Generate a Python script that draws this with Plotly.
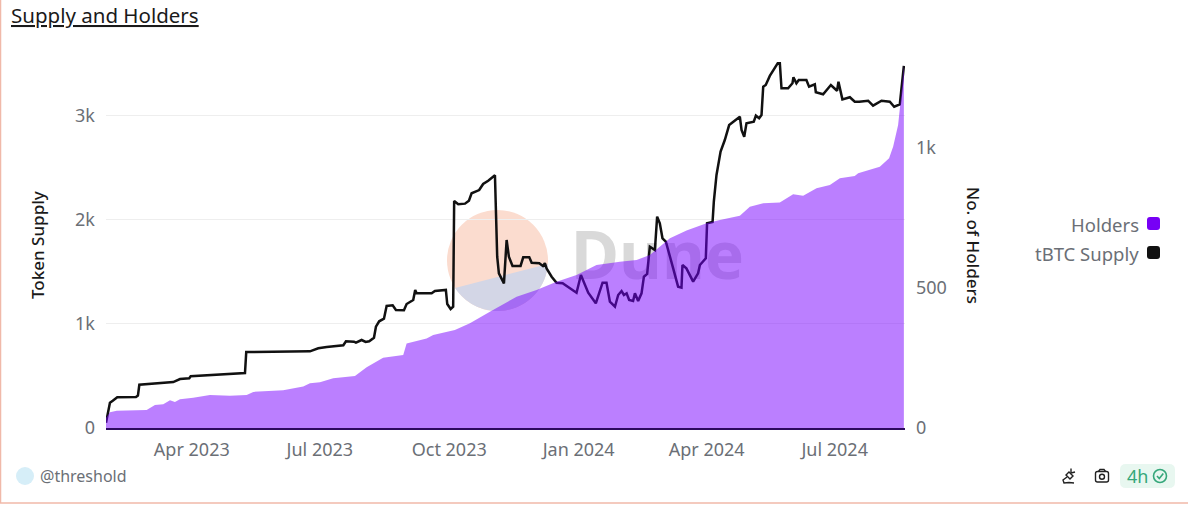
import numpy as np
import pandas as pd
import plotly.graph_objects as go

start_date = "2023-01-30"
end_date = "2024-08-20"

# values, x is days since start_date
supply_days = [0, 2.8, 4.8, 8, 21.3, 22.7, 23.7, 33.6, 47.8, 52.6, 59.2, 60.2, 85.8, 98.8, 99.7, 145, 150.9, 156.9,
               168.7, 170.6, 176.3, 177.7, 181.7, 184.6, 187.1, 190.5, 191.9, 194.2, 197.6, 199.5, 203.8, 206.1,
               211.8, 213.7, 218.4, 219.8, 220.8, 231.5, 233.8, 241.6, 242.6, 245, 246.8, 247.5, 250.4, 255.2,
               258, 259.9, 265.3, 268.1, 271.7, 276.5, 278.1, 279.3, 282.9, 284.8, 286.4, 289, 294.7, 296.6,
               300.9, 302.6, 308, 310.6, 312, 313.2, 316.8, 320.3, 324.6, 334.5, 337.6, 342.8, 348.2, 353, 355.8,
               358.2, 361.8, 364.1, 366.5, 368.2, 370.1, 371.9, 374.7, 376, 378.3, 380.7, 382.4, 384.7, 386.6,
               390.2, 391.8, 393.7, 395.6, 398, 403.2, 406.7, 409.1, 409.8, 412.6, 417.4, 420.9, 422.2, 426.4,
               427.3, 431.2, 432.1, 434, 436.9, 439.9, 443, 450.6, 451.8, 453.7, 455.3, 460.5, 462, 464.3, 466,
               467.2, 469, 471.9, 477.8, 479, 480.2, 484.9, 488, 488.7, 490.8, 492.5, 497.9, 499.8, 503.9, 504.6,
               509.8, 515.3, 519.7, 520.7, 523.5, 528.8, 532.3, 535.4, 541.8, 545.3, 551.3, 557.2, 560.3, 564.3,
               567.2]
supply_values = [51, 243, 262, 295, 298, 311, 416, 426, 442, 471, 478, 497, 516, 529, 731, 737, 766, 779,
                 795, 834, 830, 820, 846, 827, 834, 868, 974, 1026, 1051, 1173, 1180, 1135,
                 1132, 1192, 1231, 1327, 1295, 1295, 1317, 1327, 1192, 1144, 1166, 2183, 2151, 2157,
                 2186, 2257, 2288, 2346, 2378, 2430, 1647, 1487, 1391, 1808, 1647, 1558, 1558, 1641,
                 1641, 1589, 1584, 1558, 1584, 1535, 1455, 1397, 1391, 1301, 1471, 1301, 1199, 1397, 1397,
                 1214, 1166, 1279, 1317, 1279, 1295, 1231, 1221, 1295, 1221, 1295, 1455, 1481, 1743,
                 1711, 2032, 1968, 1824, 1791, 1535, 1359, 1349, 1567, 1535, 1407, 1487, 1567, 1632,
                 1968, 1981, 2176, 2433, 2657, 2769, 2913, 2993, 2865, 2801, 2930, 2945, 3003, 2978, 3010,
                 3282, 3298, 3385, 3513, 3513, 3266, 3266, 3314, 3372, 3314, 3346, 3346, 3282, 3305, 3228,
                 3209, 3298, 3243, 3330, 3160, 3180, 3137, 3137, 3147, 3099, 3147, 3137, 3089, 3112,
                 3481]

holder_days = [0, 2.8, 7.6, 19.4, 28.9, 34.8, 40.7, 45.5, 49, 52.6, 62, 73.9, 88.1, 100, 104.7, 126, 140.2, 145,
               152.1, 161.5, 177, 185.3, 197, 211.3, 213.7, 227.9, 232.6, 248, 258.7, 272.9, 291.9, 306.1, 320.3,
               334.5, 348.7, 365.3, 377.2, 386.6, 400.9, 412.7, 426.9, 436.4, 450.6, 457.7, 467.2, 479, 488.5,
               495.6, 505.1, 514.6, 521.7, 532.3, 534.7, 550.1, 556.7, 559.6, 563.1, 565.5, 567.2]
holder_values = [36, 56, 62, 62, 64, 82, 85, 99, 93, 103, 108, 118, 115, 118, 129, 135, 148, 160,
                 163, 178, 186, 217, 251, 261, 302, 320, 332, 350, 374, 415, 469, 493, 522,
                 546, 582, 594, 600, 618, 678, 705, 731, 743, 758, 790, 803, 805, 835,
                 829, 856, 868, 892, 900, 910, 933, 963, 1005, 1082, 1195, 1296]

x_ticks = ["2023-04-01", "2023-07-01", "2023-10-01", "2024-01-01", "2024-04-01", "2024-07-01"]
x_labels = ["Apr 2023", "Jul 2023", "Oct 2023", "Jan 2024", "Apr 2024", "Jul 2024"]
left_ticks = [0, 1000, 2000, 3000]
left_labels = ["0", "1k", "2k", "3k"]
right_ticks = [0, 500, 1000]
right_labels = ["0", "500", "1k"]

W, H = 1188, 507
FONT = "Noto Sans"
GREY = "#6b6f76"
DARK = "#1a1a1a"


def px(x):
    return x / W


def py(y):
    return 1 - y / H


def to_dates(days):
    return pd.Timestamp(start_date) + pd.to_timedelta(days, unit="D")


def path(points, close=True):
    s = "M " + " L ".join(f"{px(a):.5f},{py(b):.5f}" for a, b in points)
    return s + (" Z" if close else "")


def round_rect(x0, y0, x1, y1, r):
    return (f"M {px(x0 + r):.5f},{py(y0):.5f} L {px(x1 - r):.5f},{py(y0):.5f} "
            f"Q {px(x1):.5f},{py(y0):.5f} {px(x1):.5f},{py(y0 + r):.5f} "
            f"L {px(x1):.5f},{py(y1 - r):.5f} Q {px(x1):.5f},{py(y1):.5f} {px(x1 - r):.5f},{py(y1):.5f} "
            f"L {px(x0 + r):.5f},{py(y1):.5f} Q {px(x0):.5f},{py(y1):.5f} {px(x0):.5f},{py(y1 - r):.5f} "
            f"L {px(x0):.5f},{py(y0 + r):.5f} Q {px(x0):.5f},{py(y0):.5f} {px(x0 + r):.5f},{py(y0):.5f} Z")


def circle(cx, cy, r, **kw):
    return dict(type="circle", xref="paper", yref="paper", x0=px(cx - r), x1=px(cx + r),
                y0=py(cy + r), y1=py(cy - r), **kw)


fig = go.Figure()
fig.add_trace(go.Scatter(x=to_dates(supply_days), y=supply_values, name="tBTC Supply", mode="lines",
                         line=dict(color="#111111", width=2.5), yaxis="y"))
fig.add_trace(go.Scatter(x=to_dates(holder_days), y=holder_values, name="Holders", mode="lines",
                         line=dict(color="rgba(119,0,255,0)", width=0), fill="tozeroy",
                         fillcolor="rgba(119,0,255,0.5)", yaxis="y2"))

# Dune watermark, the lower part of the disc is cut along a chord
cx, cy, r = 497.5, 260.5, 50.5
arc = [(cx + r * np.cos(a), cy + r * np.sin(a)) for a in np.linspace(np.radians(147), np.radians(4), 40)]
shapes = [
    circle(cx, cy, r, fillcolor="#fbdccf", line_width=0, layer="below"),
    dict(type="path", xref="paper", yref="paper", path=path(arc), fillcolor="#d3d6e6", line_width=0, layer="below"),
    dict(type="rect", xref="paper", yref="paper", x0=px(570), x1=px(745), y0=py(290), y1=py(225),
         line_width=0, fillcolor="rgba(0,0,0,0)", layer="below",
         label=dict(text="<b>Dune</b>", font=dict(family=FONT, size=66, color="#d9d9d9"),
                    textposition="middle center")),
    # card frame
    dict(type="line", xref="paper", yref="paper", x0=px(0.5), x1=px(0.5), y0=py(0), y1=py(503),
         line=dict(color="#f0b9a9", width=1.5)),
    dict(type="line", xref="paper", yref="paper", x0=px(0), x1=px(W), y0=py(503), y1=py(503),
         line=dict(color="#f0b9a9", width=1.5)),
    # legend swatches
    dict(type="path", xref="paper", yref="paper", path=round_rect(1147, 217, 1160, 230, 3),
         fillcolor="#7700f5", line_width=0),
    dict(type="path", xref="paper", yref="paper", path=round_rect(1147, 246, 1160, 259, 3),
         fillcolor="#111111", line_width=0),
    # footer
    circle(25, 476, 9, fillcolor="#d6eef8", line_width=0),
    dict(type="path", xref="paper", yref="paper", path=round_rect(1120, 464, 1175, 488, 6),
         fillcolor="#e8f7f0", line_width=0),
    circle(1160, 476, 6.5, fillcolor="rgba(0,0,0,0)", line=dict(color="#35a77a", width=1.6)),
    dict(type="path", xref="paper", yref="paper", path=path([(1157, 476), (1159.3, 478.5), (1163.3, 473.5)], False),
         line=dict(color="#35a77a", width=1.6)),
    # camera icon
    dict(type="path", xref="paper", yref="paper", path=round_rect(1095.5, 471.5, 1108.5, 482, 2),
         fillcolor="rgba(0,0,0,0)", line=dict(color="#222222", width=1.4)),
    dict(type="path", xref="paper", yref="paper", path=path([(1098.5, 471.5), (1100, 469.5), (1104, 469.5), (1105.5, 471.5)], False),
         line=dict(color="#222222", width=1.4)),
    circle(1102, 476.7, 2.5, fillcolor="rgba(0,0,0,0)", line=dict(color="#222222", width=1.4)),
    # plug icon
    dict(type="path", xref="paper", yref="paper",
         path=path([(1069, 472), (1073, 476), (1070, 479), (1066, 475)]),
         fillcolor="rgba(0,0,0,0)", line=dict(color="#222222", width=1.4)),
    dict(type="path", xref="paper", yref="paper", path=path([(1071, 468.5), (1071, 473)], False),
         line=dict(color="#222222", width=1.4)),
    dict(type="path", xref="paper", yref="paper", path=path([(1075, 472), (1071, 473)], False),
         line=dict(color="#222222", width=1.4)),
    dict(type="path", xref="paper", yref="paper",
         path=path([(1067, 477), (1063, 480), (1064, 483), (1069, 482.5), (1074, 483)], False),
         line=dict(color="#222222", width=1.4)),
]

annotations = [
    dict(text="Supply and Holders", x=px(9), y=py(15), font=dict(size=20.5, color=DARK, lineposition="under")),
    dict(text="@threshold", x=px(38), y=py(476), font=dict(size=16, color=GREY)),
    dict(text="Holders", x=px(1141), y=py(224), xanchor="right", font=dict(size=18.5, color=GREY)),
    dict(text="tBTC Supply", x=px(1141), y=py(253), xanchor="right", font=dict(size=18.5, color=GREY)),
    dict(text="4h", x=px(1125), y=py(476), font=dict(size=18, color="#35a77a")),
    dict(text="Token Supply", x=px(37), y=py(245), xanchor="center", textangle=-90,
         font=dict(size=17, color=DARK, weight=500)),
    dict(text="No. of Holders", x=px(974), y=py(245), xanchor="center", textangle=90,
         font=dict(size=17, color=DARK, weight=500)),
]
for a in annotations:
    a.update(xref="paper", yref="paper", showarrow=False, yanchor="middle")
    a.setdefault("xanchor", "left")
    a["font"]["family"] = FONT

fig.update_layout(
    width=W, height=H, margin=dict(l=0, r=0, t=0, b=0),
    paper_bgcolor="white", plot_bgcolor="white", showlegend=False,
    font=dict(family=FONT, size=18, color=GREY),
    shapes=shapes, annotations=annotations,
    xaxis=dict(domain=[px(106), px(905)], range=[start_date, end_date], tickvals=x_ticks, ticktext=x_labels,
               showgrid=False, showline=True, linecolor="#2d0a5e", linewidth=1.5, ticks="",
               ticklabelstandoff=5, automargin=False, zeroline=False),
    yaxis=dict(domain=[py(428), py(62)], range=[0, 3519], tickvals=left_ticks, ticktext=left_labels,
               gridcolor="#eeeeee", gridwidth=1, zeroline=False, ticks="", ticklabelstandoff=10, automargin=False),
    yaxis2=dict(domain=[py(428), py(62)], range=[0, 1307], overlaying="y", side="right", tickvals=right_ticks,
                ticktext=right_labels, showgrid=False, zeroline=False, ticks="", ticklabelstandoff=10, automargin=False),
)

fig.write_html("out.html", config={"displayModeBar": False}, post_script="document.body.style.margin='0';")
